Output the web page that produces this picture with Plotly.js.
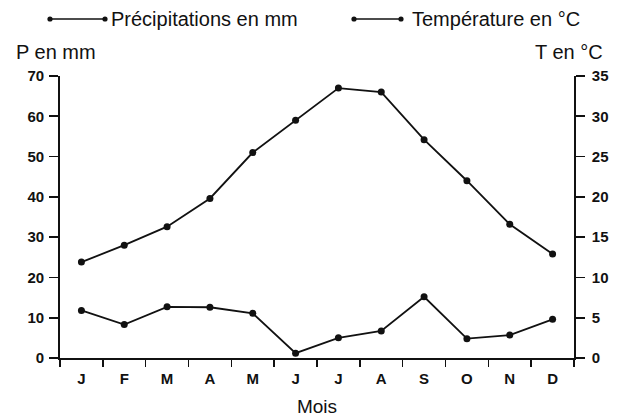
<!DOCTYPE html>
<html>
<head>
<meta charset="utf-8">
<script src="https://cdn.plot.ly/plotly-3.0.1.min.js"></script>
<style>html,body{margin:0;padding:0;background:#fff;}#chart{width:627px;height:417px;}</style>
</head>
<body>
<div id="chart"></div>
<script>
// ---- data ----
const monthKeys = ['Jan','Fév','Mar','Avr','Mai','Juin','Juil','Août','Sep','Oct','Nov','Déc'];
const monthLabels = ['J','F','M','A','M','J','J','A','S','O','N','D'];
const precipitation = [11.8, 8.3, 12.7, 12.6, 11.1, 1.2, 5.0, 6.7, 15.2, 4.8, 5.7, 9.6];   // mm
const temperature = [11.9, 14.0, 16.3, 19.8, 25.5, 29.5, 33.5, 33.0, 27.1, 22.0, 16.6, 12.9]; // °C
const seriesNames = ['Précipitations en mm', 'Température en °C'];
const pTicks = [0, 10, 20, 30, 40, 50, 60, 70];
const tTicks = [0, 5, 10, 15, 20, 25, 30, 35];

// ---- layout helpers ----
const W = 627, H = 417, L = 60, R = 53, T = 76, B = 59;
const pw = W - L - R, ph = H - T - B;
const px = x => (x - L) / pw;
const py = y => (H - B - y) / ph;
const FONT = 'Liberation Sans, Arial, Helvetica, sans-serif';

const traces = [
  {x: monthKeys, y: precipitation, name: seriesNames[0], type: 'scatter', mode: 'lines+markers',
   line: {color: '#111', width: 1.8}, marker: {color: '#111', size: 7}, yaxis: 'y'},
  {x: monthKeys, y: temperature, name: seriesNames[1], type: 'scatter', mode: 'lines+markers',
   line: {color: '#111', width: 1.8}, marker: {color: '#111', size: 7}, yaxis: 'y2'}
];

// legend drawn as decorations
const shapes = [];
const annotations = [];
const legendItems = [{x0: 50, x1: 105, tx: 109, name: seriesNames[0]}, {x0: 354, x1: 401, tx: 410, name: seriesNames[1]}];
const legY = 19;
legendItems.forEach(it => {
  shapes.push({type: 'line', xref: 'paper', yref: 'paper', x0: px(it.x0), x1: px(it.x1), y0: py(legY), y1: py(legY),
               line: {color: '#111', width: 1.6}});
  [it.x0, it.x1].forEach(cx => {
    shapes.push({type: 'circle', xref: 'paper', yref: 'paper', xsizemode: 'pixel', ysizemode: 'pixel',
                 xanchor: px(cx), yanchor: py(legY), x0: -2.6, x1: 2.6, y0: -2.6, y1: 2.6,
                 fillcolor: '#111', line: {color: '#111', width: 0}});
  });
  annotations.push({xref: 'paper', yref: 'paper', x: px(it.tx), y: py(legY), xanchor: 'left', yanchor: 'middle',
                    text: it.name, showarrow: false, font: {family: FONT, size: 20, color: '#111'}});
});
annotations.push({xref: 'paper', yref: 'paper', x: px(14), y: py(52), xanchor: 'left', yanchor: 'middle',
                  text: 'P en mm', showarrow: false, font: {family: FONT, size: 20, color: '#111'}});
annotations.push({xref: 'paper', yref: 'paper', x: px(605), y: py(52), xanchor: 'right', yanchor: 'middle',
                  text: 'T en °C', showarrow: false, font: {family: FONT, size: 20, color: '#111'}});

const tickFont = {family: FONT, size: 15, color: '#111', weight: 'bold'};
const layout = {
  width: W, height: H,
  margin: {l: L, r: R, t: T, b: B, pad: 0},
  paper_bgcolor: '#fff', plot_bgcolor: '#fff',
  showlegend: false,
  xaxis: {
    type: 'category', tickmode: 'array', tickvals: monthKeys, ticktext: monthLabels,
    tickson: 'boundaries', ticks: 'outside', ticklen: 7, tickwidth: 1.6, tickcolor: '#111',
    showline: true, linecolor: '#111', linewidth: 1.8, showgrid: false, zeroline: false,
    range: [-0.5, 11.5], tickfont: tickFont, ticklabelstandoff: 6,
    title: {text: 'Mois', font: {family: FONT, size: 19, color: '#111'}, standoff: 14}
  },
  yaxis: {
    range: [0, 70], tickmode: 'array', tickvals: pTicks, ticks: 'outside', ticklen: 9, tickwidth: 1.6,
    tickcolor: '#111', showline: true, linecolor: '#111', linewidth: 1.8, showgrid: false, zeroline: false,
    tickfont: tickFont, ticklabelstandoff: 2
  },
  yaxis2: {
    range: [0, 35], tickmode: 'array', tickvals: tTicks, overlaying: 'y', side: 'right',
    ticks: 'outside', ticklen: 9, tickwidth: 1.6, tickcolor: '#111', showline: true, linecolor: '#111',
    linewidth: 1.8, showgrid: false, zeroline: false, tickfont: tickFont, ticklabelstandoff: 4
  },
  shapes: shapes,
  annotations: annotations
};
Plotly.newPlot('chart', traces, layout, {staticPlot: true, displayModeBar: false});
</script>
</body>
</html>
